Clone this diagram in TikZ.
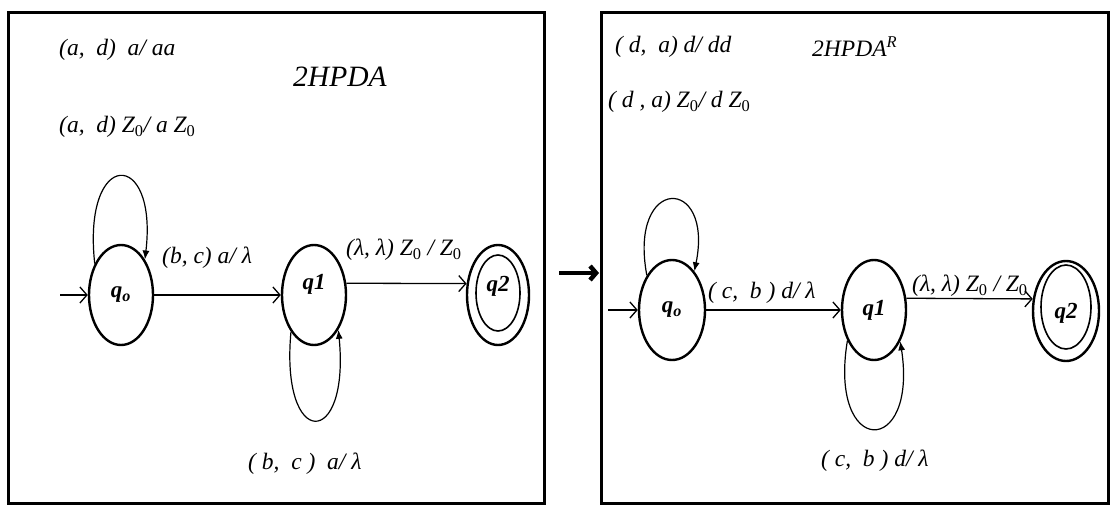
\documentclass[tikz,border=0pt]{standalone}
\usepackage{fontspec}
\setmainfont{Liberation Serif}
\usetikzlibrary{shapes.geometric,arrows.meta}
\newcommand{\Zo}{Z\textsubscript{\upshape 0}}
\begin{document}
\begin{tikzpicture}[x=1pt,y=-1pt,
  state/.style={draw, ellipse, line width=2.4pt, minimum width=64pt, minimum height=100pt, inner sep=0pt},
  inner/.style={draw, ellipse, line width=1.6pt, inner sep=0pt},
  qlbl/.style={font=\fontsize{23}{25}\selectfont\bfseries\itshape},
  lbl/.style={font=\fontsize{23.5}{26}\selectfont\itshape, anchor=west, inner sep=0pt},
  ttl/.style={font=\fontsize{29.5}{32}\selectfont\itshape, anchor=west, inner sep=0pt},
  ttlr/.style={font=\fontsize{23.5}{26}\selectfont\itshape, anchor=west, inner sep=0pt},
  edge/.style={line width=1.3pt, -{Straight Barb[length=7pt,width=16pt,line width=1.3pt]}},
  selfloop/.style={line width=1.2pt, -{Latex[length=9pt,width=7pt]}},
  frame/.style={line width=3pt},
  bigarrow/.style={line width=4.5pt, -{Straight Barb[length=6pt,width=14pt,line width=4.5pt]}}]
\useasboundingbox (0,0) rectangle (1115,506);
% frames
\draw[frame] (8,12) rectangle (544,503);
\draw[frame] (601,12) rectangle (1108,503);
% ---------------- left diagram
\node[state, label={[qlbl]center:q\textsubscript{o}}] (Lq0) at (121,295) {};
\node[state, label={[qlbl,yshift=11pt]center:q1}] (Lq1) at (314,295) {};
\node[state, minimum width=62pt, label={[qlbl,yshift=9pt]center:q2}] (Lq2) at (498,295) {};
\node[inner, minimum width=44pt, minimum height=76pt] (Lq2in) at (498,293) {};
\coordinate (Lin) at (60,295);
\draw[edge] (Lin) -- (Lq0);
\draw[edge] (Lq0) -- (Lq1);
\draw[edge] (Lq1.20) -- (Lq2.160);
\draw[selfloop] (Lq0.130) .. controls (82,148) and (158,148) .. (Lq0.56);
\draw[selfloop] (Lq1.238) .. controls (280,450) and (350,450) .. (Lq1.305);
\node[lbl] (La1) at (59,50) {(a,\ \ d)\ \ a/ aa};
\node[ttl] (Lt) at (293,77) {2HPDA};
\node[lbl] (La2) at (59,127) {(a,\ \ d) \Zo/ a \Zo};
\node[lbl] (La3) at (162,258) {(b, c) a/ λ};
\node[lbl] (La4) at (346,250) {(λ, λ) \Zo{} / \Zo};
\node[lbl] (La5) at (248,464) {( b,\ \ c )\ \ a/ λ};
% big arrow between
\coordinate (A1) at (559,273);
\coordinate (A2) at (599,273);
\draw[bigarrow] (A1) -- (A2);
% ---------------- right diagram
\node[state, minimum width=66pt, label={[qlbl]center:q\textsubscript{o}}] (Rq0) at (672,310) {};
\node[state, label={[qlbl]center:q1}] (Rq1) at (874,310) {};
\node[state, minimum width=66pt, label={[qlbl,yshift=-2pt]center:q2}] (Rq2) at (1066,311) {};
\node[inner, minimum width=50pt, minimum height=84pt] (Rq2in) at (1066,307) {};
\coordinate (Rin) at (608,310);
\draw[edge] (Rin) -- (Rq0);
\draw[edge] (Rq0) -- (Rq1);
\draw[edge] (Rq1.20) -- (Rq2.160);
\draw[selfloop] (Rq0.126) .. controls (628,175) and (714,175) .. (Rq0.60);
\draw[selfloop] (Rq1.229) .. controls (828,458) and (918,458) .. (Rq1.310);
\node[lbl] (Ra1) at (615,47) {( d,\ \ a) d/ dd};
\node[ttlr] (Rt) at (812,47) {2HPDA\textsuperscript{R}};
\node[lbl] (Ra2) at (608,102) {( d , a) \Zo/ d \Zo};
\node[lbl] (Ra3) at (708,293) {( c,\ \ b ) d/ λ};
\node[lbl] (Ra4) at (912,286) {(λ, λ) \Zo{} / \Zo};
\node[lbl] (Ra5) at (821,461) {( c,\ \ b ) d/ λ};
\end{tikzpicture}
\end{document}
